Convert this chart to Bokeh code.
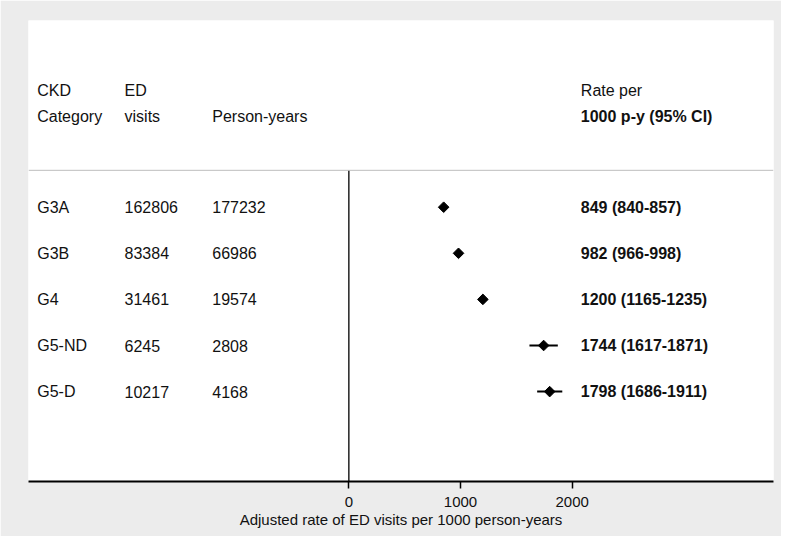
from math import pi
from bokeh.plotting import figure
from bokeh.models import Range1d, FixedTicker, Span, ColumnDataSource
from bokeh.core.properties import value
from bokeh.embed import file_html
from bokeh.resources import INLINE

# ---- data ----
categories = ["G3A", "G3B", "G4", "G5-ND", "G5-D"]
ed_visits = [162806, 83384, 31461, 6245, 10217]
person_years = [177232, 66986, 19574, 2808, 4168]
rate = [849, 982, 1200, 1744, 1798]
ci_low = [840, 966, 1165, 1617, 1686]
ci_high = [857, 998, 1235, 1871, 1911]
x_ticks = [0, 1000, 2000]
header_col1 = ["CKD", "Category"]
header_col2 = ["ED", "visits"]
header_col3 = ["", "Person-years"]
header_col4 = ["Rate per", "1000 p-y (95% CI)"]
x_title = "Adjusted rate of ED visits per 1000 person-years"

# ---- layout constants ----
FONT = value("Liberation Sans")
FS = value("16px")
GRAY = "#ececec"
X_MIN, X_MAX = -2868, 3802
Y_MIN, Y_MAX = -0.95, 9.05
COL1, COL2, COL3, COL4 = -2790, -2008, -1223, 2077
HEAD_Y = [7.53, 6.97]
SEP_Y = 5.8

n = len(categories)
row_y = [n - i for i in range(n)]

p = figure(width=781, height=536, output_backend="svg", toolbar_location=None,
           x_range=Range1d(X_MIN, X_MAX), y_range=Range1d(Y_MIN, Y_MAX),
           min_border_left=28, min_border_right=8, min_border_top=20,
           min_border_bottom=55)
p.border_fill_color = GRAY
p.background_fill_color = "white"
p.outline_line_color = None
p.xgrid.visible = False
p.ygrid.visible = False
p.yaxis.visible = False

ax = p.xaxis[0]
ax.ticker = FixedTicker(ticks=x_ticks)
ax.axis_line_color = "black"
ax.axis_line_width = 2
ax.major_tick_line_color = "black"
ax.major_tick_line_width = 1.5
ax.major_tick_out = 7
ax.major_tick_in = 0
ax.minor_tick_line_color = None
ax.major_label_text_font = "Liberation Sans"
ax.major_label_text_font_size = "15px"
ax.major_label_text_color = "#111111"
ax.major_label_standoff = 8
ax.axis_label = x_title
ax.axis_label_text_font = "Liberation Sans"
ax.axis_label_text_font_size = "15px"
ax.axis_label_text_font_style = "normal"
ax.axis_label_text_color = "#111111"
ax.axis_label_standoff = 1

# separator and zero line
p.add_layout(Span(location=SEP_Y, dimension="width", line_color="#bdbdbd", line_width=1))
p.segment(x0=[0], y0=[Y_MIN], x1=[0], y1=[SEP_Y], line_color="#222222", line_width=1.5)

# CI lines and points
src = ColumnDataSource(dict(y=row_y, rate=rate, lo=ci_low, hi=ci_high))
p.segment(x0="lo", y0="y", x1="hi", y1="y", source=src, line_color="black", line_width=2)
p.scatter(x="rate", y="y", source=src, marker="square", size=7.5, angle=pi / 4,
          fill_color="black", line_color="black")

def txt(xs, ys, texts, bold=False):
    p.text(x=xs, y=ys, text=texts, text_font=FONT, text_font_size=FS,
           text_baseline="middle", text_align="left", text_color="#111111",
           text_font_style="bold" if bold else "normal")

# headers
txt([COL1] * 2, HEAD_Y, header_col1)
txt([COL2] * 2, HEAD_Y, header_col2)
txt([COL3], [HEAD_Y[1]], [header_col3[1]])
txt([COL4], [HEAD_Y[0]], [header_col4[0]])
txt([COL4], [HEAD_Y[1]], [header_col4[1]], bold=True)

# rows
txt([COL1] * n, row_y, categories)
txt([COL2] * n, row_y, [str(v) for v in ed_visits])
txt([COL3] * n, row_y, [str(v) for v in person_years])
txt([COL4] * n, row_y, [f"{r} ({lo}-{hi})" for r, lo, hi in zip(rate, ci_low, ci_high)], bold=True)

open("out.html", "w").write(file_html(p, INLINE))
